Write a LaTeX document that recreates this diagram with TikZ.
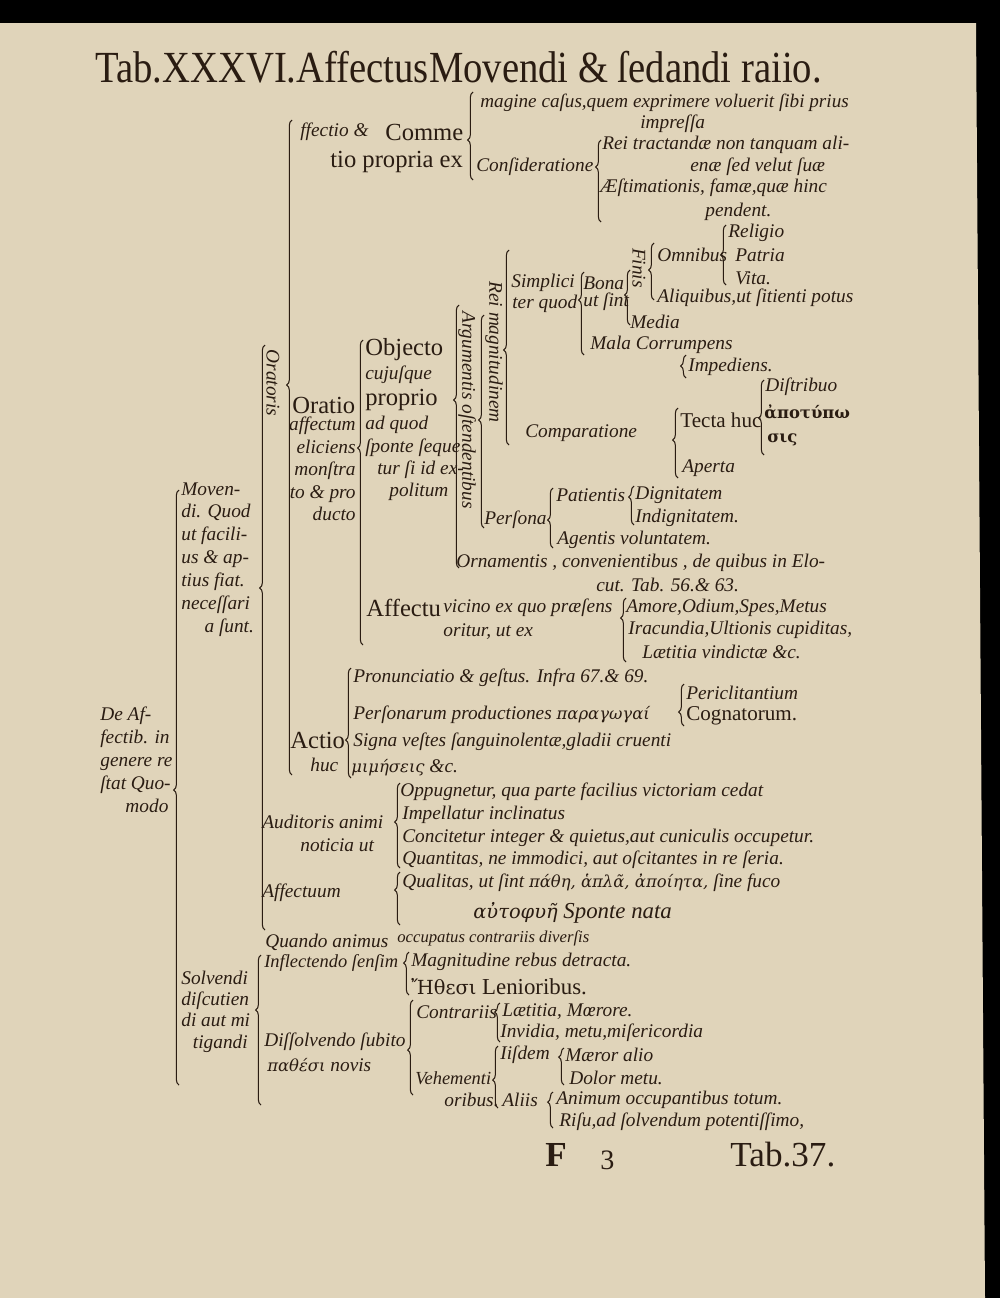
\documentclass[tikz,border=0pt]{standalone}
\usepackage{fontspec}
\setmainfont{Liberation Serif}
\newfontfamily\grk[Scale=0.85]{DejaVu Serif}
\usetikzlibrary{decorations.pathreplacing}
\definecolor{paper}{RGB}{224,212,186}
\definecolor{ink}{RGB}{42,28,18}
\tikzset{
  lat/.style={anchor=west,inner sep=0pt,text=ink,font=\fontsize{11}{12.8}\selectfont\itshape},
  rom/.style={anchor=west,inner sep=0pt,text=ink,font=\fontsize{14}{16}\selectfont},
  vert/.style={lat,anchor=center,rotate=-90},
  brk/.style={draw=ink,line width=0.6pt,decorate,decoration={brace,amplitude=3pt,aspect=#1}},
  brk/.default=0.5
}
\begin{document}
\begin{tikzpicture}[x=0.02cm,y=-0.02cm]
  \fill[black] (0,0) rectangle (1000,1298);
  \fill[paper] (0,23) -- (976,23) -- (985,1298) -- (0,1298) -- cycle;
  \useasboundingbox (0,0) rectangle (1000,1298);

  % title
  \node[rom,font=\fontsize{22}{22}\selectfont,yscale=1.15] (title) at (95,67) {Tab.XXXVI.AffectusMovendi \& ſedandi raiio.};

  % left column
  \node[lat,align=left,anchor=north west,font=\fontsize{11}{13}\selectfont\itshape] (moven) at (181,482) {Moven-\\di. Quod\\ut facili-\\us \& ap-\\tius fiat.\\neceſſari\\\hspace*{1.2em}a ſunt.};
  \node[lat,align=left,anchor=north west,font=\fontsize{11}{13}\selectfont\itshape] (deaff) at (100,707) {De Af-\\fectib. in\\genere re\\ſtat Quo-\\\hspace*{1.3em}modo};
  \node[lat,align=left,anchor=north west,font=\fontsize{11}{12}\selectfont\itshape] (solv) at (181,971) {Solvendi\\diſcutien\\di aut mi\\\hspace*{0.6em}tigandi};

  % oratoris
  \node[lat] (ffe) at (300,132) {ffectio \&};
  \node[rom] (comme) at (385,132) {Comme};
  \node[rom] (prop) at (330,162) {tio propria ex};
  \node[lat,font=\fontsize{10.9}{12}\selectfont\itshape] (imag) at (480,103) {magine caſus,quem exprimere voluerit ſibi prius};
  \node[lat] (impr) at (640,124) {impreſſa};
  \node[lat] (consid) at (476,167) {Conſideratione};
  \node[lat] (rei) at (602,145) {Rei tractandæ non tanquam ali-};
  \node[lat] (ena) at (690,167) {enæ ſed velut ſuæ};
  \node[lat] (aest) at (600,188) {Æſtimationis, famæ,quæ hinc};
  \node[lat] (pend) at (705,212) {pendent.};

  \node[vert] (orat) at (273,383) {Oratoris};
  \node[rom] (oratio) at (292,405) {Oratio};
  \node[lat,align=right,anchor=north east] (aff) at (356,417) {affectum\\eliciens\\monſtra\\to \& pro\\ducto};
  \node[rom] (obj) at (365,350) {Objecto};
  \node[lat] (cuj) at (365,375) {cujuſque};
  \node[rom] (propr) at (365,400) {proprio};
  \node[lat] (adq) at (365,425) {ad quod};
  \node[lat] (spon) at (365,448) {ſponte ſeque};
  \node[lat] (turs) at (377,470) {tur ſi id ex-};
  \node[lat] (polit) at (389,492) {politum};

  % argumentis
  \node[vert] (argu) at (467,410) {Argumentis oſtendentibus};
  \node[vert] (magn) at (494,352) {Rei magnitudinem};
  \node[lat] (simp) at (511,283) {Simplici};
  \node[lat] (terq) at (512,304) {ter quod};
  \node[lat] (bona) at (583,283) {Bona};
  \node[lat] (utsint) at (583,302) {ut ſint};
  \node[vert] (fin) at (639,268) {Finis};
  \node[lat] (media) at (630,322) {Media};
  \node[lat] (omn) at (657,255) {Omnibus};
  \node[lat] (aliq) at (657,298) {Aliquibus,ut ſitienti potus};
  \node[lat] (relig) at (728,233) {Religio};
  \node[lat] (patr) at (735,255) {Patria};
  \node[lat] (vita) at (735,278) {Vita.};
  \node[lat] (mala) at (590,345) {Mala Corrumpens};
  \node[lat] (imped) at (688,367) {Impediens.};
  \node[lat] (comp) at (525,433) {Comparatione};
  \node[rom,font=\fontsize{12}{14}\selectfont] (tecta) at (680,420) {Tecta huc};
  \node[lat] (aperta) at (682,468) {Aperta};
  \node[lat] (distr) at (765,387) {Diſtribuo};
  \node[lat,font=\grk\fontsize{11}{12}\selectfont\bfseries] (apot) at (764,412) {ἀποτύπω};
  \node[lat,font=\grk\fontsize{11}{12}\selectfont\bfseries] (sis) at (767,440) {σις};
  \node[lat] (pers) at (484,520) {Perſona};
  \node[lat] (pat) at (556,495) {Patientis};
  \node[lat] (dign) at (635,495) {Dignitatem};
  \node[lat] (indig) at (635,518) {Indignitatem.};
  \node[lat] (agent) at (557,540) {Agentis voluntatem.};
  \node[lat] (orn) at (456,563) {Ornamentis , convenientibus , de quibus in Elo-};
  \node[lat] (cut) at (596,585) {cut. Tab. 56.\& 63.};
  \node[rom] (affu) at (366,608) {Affectu};
  \node[lat] (vic) at (443,608) {vicino ex quo præſens};
  \node[lat] (orit) at (443,632) {oritur, ut ex};
  \node[lat] (amor) at (626,608) {Amore,Odium,Spes,Metus};
  \node[lat] (irac) at (628,630) {Iracundia,Ultionis cupiditas,};
  \node[lat] (laet) at (642,652) {Lætitia vindictæ \&c.};

  % actio
  \node[rom] (actio) at (290,740) {Actio};
  \node[lat] (huc) at (310,765) {huc};
  \node[lat] (pron) at (353,678) {Pronunciatio \& geſtus. Infra 67.\& 69.};
  \node[lat] (prod) at (353,715) {Perſonarum productiones {\grk παραγωγαί}};
  \node[lat] (sign) at (353,742) {Signa veſtes ſanguinolentæ,gladii cruenti};
  \node[lat] (mim) at (351,768) {{\grk μιμήσεις} \&c.};
  \node[lat] (peric) at (686,693) {Periclitantium};
  \node[rom,font=\fontsize{12}{14}\selectfont] (cogn) at (686,716) {Cognatorum.};

  % auditoris
  \node[lat] (aud) at (262,822) {Auditoris animi};
  \node[lat] (noti) at (300,845) {noticia ut};
  \node[lat] (opp) at (400,792) {Oppugnetur, qua parte facilius victoriam cedat};
  \node[lat] (impel) at (402,815) {Impellatur inclinatus};
  \node[lat] (conc) at (402,838) {Concitetur integer \& quietus,aut cuniculis occupetur.};
  \node[lat] (quant) at (402,860) {Quantitas, ne immodici, aut oſcitantes in re ſeria.};
  \node[lat] (affum) at (262,893) {Affectuum};
  \node[lat] (qual) at (402,883) {Qualitas, ut ſint {\grk πάθη, ἁπλᾶ, ἀποίητα,} ſine fuco};
  \node[lat,font=\fontsize{13}{14}\selectfont\itshape] (auto) at (473,913) {{\grk αὐτοφυῆ} Sponte nata};

  % solvendi
  \node[lat] (quando) at (265,942) {Quando animus};
  \node[lat,font=\fontsize{9.5}{11}\selectfont\itshape] (occ) at (397,938) {occupatus contrariis diverſis};
  \node[lat,font=\fontsize{10.5}{12}\selectfont\itshape] (infl) at (264,963) {Inflectendo ſenſim};
  \node[lat] (magnit) at (411,962) {Magnitudine rebus detracta.};
  \node[rom,font=\fontsize{13}{14}\selectfont] (ethe) at (411,987) {{\grk Ἤθεσι} Lenioribus.};
  \node[lat] (diss) at (264,1042) {Diſſolvendo ſubito};
  \node[lat] (path) at (267,1065) {{\grk παθέσι} novis};
  \node[lat] (contr) at (416,1012) {Contrariis};
  \node[lat] (laet2) at (502,1012) {Lætitia, Mœrore.};
  \node[lat] (invid) at (500,1033) {Invidia, metu,miſericordia};
  \node[lat,font=\fontsize{10.5}{12}\selectfont\itshape] (vehem) at (415,1078) {Vehementi};
  \node[lat] (orib) at (444,1100) {oribus.};
  \node[lat] (iisd) at (500,1055) {Iiſdem};
  \node[lat] (maer) at (565,1055) {Mæror alio};
  \node[lat] (dolor) at (569,1078) {Dolor metu.};
  \node[lat] (aliis) at (502,1100) {Aliis};
  \node[lat] (anim) at (556,1100) {Animum occupantibus totum.};
  \node[lat] (risu) at (559,1122) {Riſu,ad ſolvendum potentiſſimo,};

  % signature and catchword
  \node[rom,font=\fontsize{20}{20}\selectfont\bfseries] (sigF) at (545,1155) {F};
  \node[rom,font=\fontsize{16}{16}\selectfont] (sig3) at (600,1160) {3};
  \node[rom,font=\fontsize{20}{20}\selectfont] (nxt) at (730,1155) {Tab.37.};

  % braces: name/x/top/bottom/cusp
  \foreach \bn/\bx/\bt/\bb/\bc in {
      dea/179/490/1085/790, mov/265/345/930/588, ora/292/120/775/385,
      com/473/92/180/140, con/601/140/222/167, obj/363/340/645/448,
      arg/459/305/568/400, rma/484/315/528/420, sim/509/250/445/350,
      bon/584/272/355/300, fns/630/270/325/295, omb/654/243/300/270,
      rel/726/225/285/255, mal/686/355/378/366, cmp/678/408/478/440,
      tec/764/380/455/418, per/553/488/548/520, pat/634/486/525/497,
      afc/626/598/662/618, act/351/668/778/740, prd/684/684/726/712,
      aud/400/783/868/822, afm/400/872/925/890, sol/261/955/1105/1010,
      inf/409/952/995/963, dis/413/1000/1095/1050, ctr/500/1003/1042/1012,
      veh/498/1046/1108/1080, iis/564/1048/1085/1057, ali/553/1092/1128/1102}{
    \coordinate (\bn-t) at (\bx,\bt);
    \coordinate (\bn-b) at (\bx,\bb);
    \pgfmathsetmacro\asp{(\bb-\bc)/(\bb-\bt)}
    \draw[brk=\asp] (\bn-b) -- (\bn-t);
  }
\end{tikzpicture}
\end{document}
